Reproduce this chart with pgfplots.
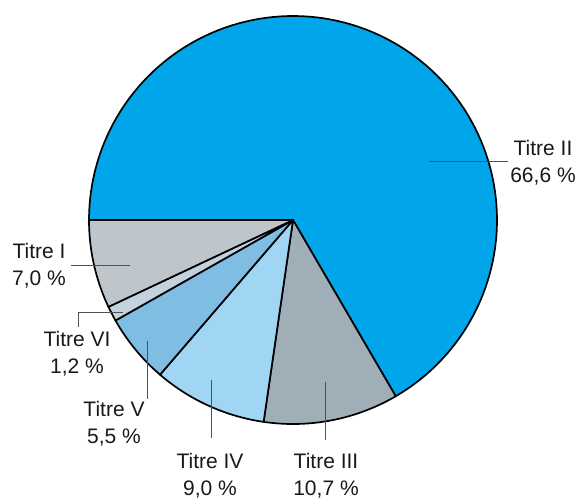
\documentclass[border=0pt]{standalone}
\usepackage{pgfplots}
\pgfplotsset{compat=1.18}
\usepackage{fontspec}
\setmainfont{Liberation Sans}
\definecolor{cII}{HTML}{00A6E9}
\definecolor{cIII}{HTML}{A0AEB8}
\definecolor{cIV}{HTML}{A0D6F4}
\definecolor{cV}{HTML}{7FBDE3}
\definecolor{cVI}{HTML}{C3D2DD}
\definecolor{cI}{HTML}{BFC6CB}
\definecolor{lead}{HTML}{505050}
% slice values (percent)
\def\vII{66.6}
\def\vIII{10.7}
\def\vIV{9.0}
\def\vV{5.5}
\def\vVI{1.2}
\def\vI{7.0}
\begin{document}
\begin{tikzpicture}
\pgfmathsetmacro\aO{180}
\pgfmathsetmacro\aA{\aO-3.6*\vII}
\pgfmathsetmacro\aB{\aA-3.6*\vIII}
\pgfmathsetmacro\aC{\aB-3.6*\vIV}
\pgfmathsetmacro\aD{\aC-3.6*\vV}
\pgfmathsetmacro\aE{\aD-3.6*\vVI}
\pgfmathsetmacro\aF{\aE-3.6*\vI}
\begin{axis}[x=1pt,y=1pt,xmin=0,xmax=577,ymin=0,ymax=496,y dir=reverse,
  hide axis,clip=false,scale only axis,
  every axis plot/.append style={draw=black,line width=1.7pt,line join=round,samples=120,variable=\t}]
\path (axis cs:0,0) rectangle (axis cs:577,496);
\addplot[fill=cII,domain=\aA:\aO] ({293+204*cos(\t)},{220-204*sin(\t)}) -- (axis cs:293,220) -- cycle;
\addplot[fill=cIII,domain=\aB:\aA] ({293+204*cos(\t)},{220-204*sin(\t)}) -- (axis cs:293,220) -- cycle;
\addplot[fill=cIV,domain=\aC:\aB] ({293+204*cos(\t)},{220-204*sin(\t)}) -- (axis cs:293,220) -- cycle;
\addplot[fill=cV,domain=\aD:\aC] ({293+204*cos(\t)},{220-204*sin(\t)}) -- (axis cs:293,220) -- cycle;
\addplot[fill=cVI,domain=\aE:\aD,samples=20] ({293+204*cos(\t)},{220-204*sin(\t)}) -- (axis cs:293,220) -- cycle;
\addplot[fill=cI,domain=\aF:\aE] ({293+204*cos(\t)},{220-204*sin(\t)}) -- (axis cs:293,220) -- cycle;
% leader lines
\draw[lead,line width=0.9pt] (axis cs:429,161.5) -- (axis cs:508,161.5);
\draw[lead,line width=0.9pt] (axis cs:325,382) -- (axis cs:325,440);
\draw[lead,line width=0.9pt] (axis cs:211.5,380) -- (axis cs:211.5,438);
\draw[lead,line width=0.9pt] (axis cs:147.5,341) -- (axis cs:147.5,399);
\draw[lead,line width=0.9pt] (axis cs:123,312.5) -- (axis cs:78,312.5) -- (axis cs:78,327);
\draw[lead,line width=0.9pt] (axis cs:71,265) -- (axis cs:130,265);
% labels
\tikzset{lab/.style={align=center,font=\fontsize{21}{27}\selectfont,text=black!90,inner sep=0pt}}
\node[lab] at (axis cs:543,163) {Titre II\\66,6 \%};
\node[lab] at (axis cs:326,475.5) {Titre III\\10,7 \%};
\node[lab] at (axis cs:210,475.5) {Titre IV\\9,0 \%};
\node[lab] at (axis cs:114,424) {Titre V\\5,5 \%};
\node[lab] at (axis cs:77,354) {Titre VI\\1,2 \%};
\node[lab] at (axis cs:39,266) {Titre I\\7,0 \%};
\end{axis}
\end{tikzpicture}
\end{document}
